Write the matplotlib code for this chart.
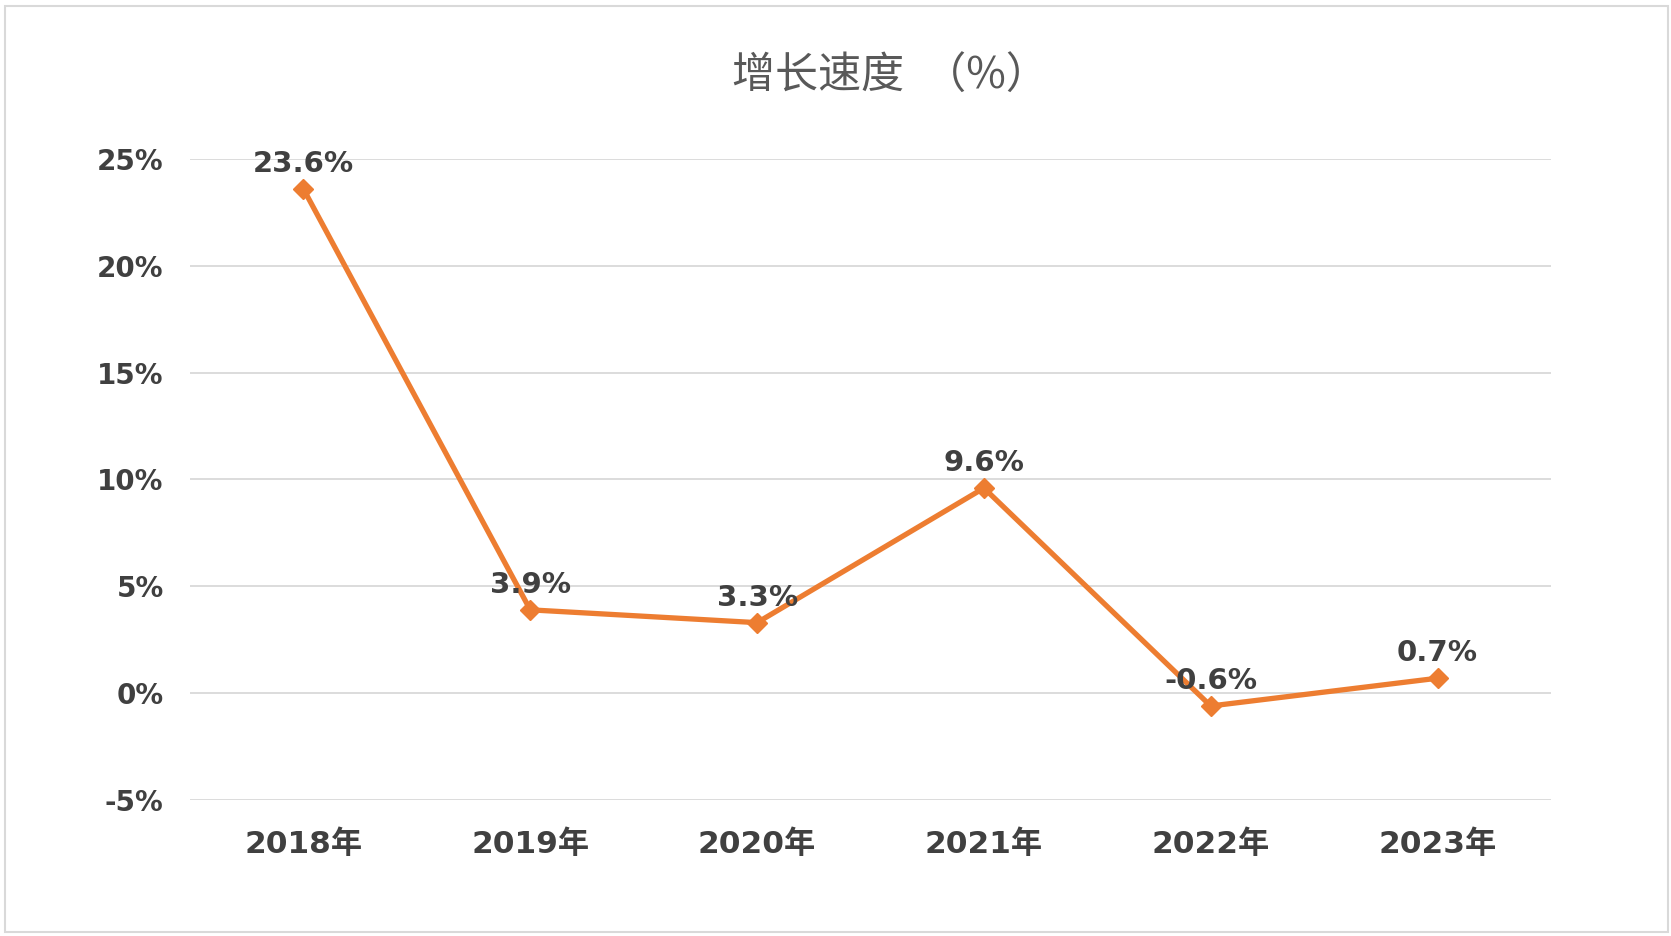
import numpy as np
import matplotlib.pyplot as plt
from matplotlib.ticker import FuncFormatter
from matplotlib.patches import Rectangle

years = ['2018年', '2019年', '2020年', '2021年', '2022年', '2023年']
growth = [23.6, 3.9, 3.3, 9.6, -0.6, 0.7]
title = '增长速度  （%）'

orange = '#ED7D31'
txt_color = '#404040'
fonts = ['DejaVu Sans', 'Noto Sans CJK SC']

fig = plt.figure(figsize=(16.71, 9.36), dpi=100)
fig.patch.set_facecolor('white')
# chart border
fig.patches.append(Rectangle((0.003, 0.004), 0.995, 0.99, transform=fig.transFigure,
                             fill=False, edgecolor='#D9D9D9', linewidth=1.5))

ax = fig.add_axes([190 / 1671, 1 - 800 / 936, 1361 / 1671, 641 / 936])
x = np.arange(len(years))
ax.plot(x, growth, color=orange, linewidth=3.8, marker='D', markersize=10,
        zorder=3)

for xi, v in zip(x, growth):
    ax.annotate(f'{v:.1f}%', (xi, v), xytext=(0, 18), textcoords='offset points',
                ha='center', va='center', fontsize=21, fontweight='bold',
                color=txt_color, family=fonts, zorder=4)

ax.set_xlim(-0.5, len(years) - 0.5)
ax.set_ylim(-5, 25)
ax.set_yticks(np.arange(-5, 26, 5))
ax.yaxis.set_major_formatter(FuncFormatter(lambda v, p: f'{v:.0f}%'))
ax.set_xticks(x)
ax.set_xticklabels(years)
ax.grid(axis='y', color='#D9D9D9', linewidth=1.3)
ax.set_axisbelow(True)
for s in ax.spines.values():
    s.set_visible(False)
ax.tick_params(length=0)
ax.tick_params(axis='y', pad=19)
ax.tick_params(axis='x', pad=21)
for lab in ax.get_yticklabels():
    lab.set_fontsize(20)
    lab.set_fontweight('bold')
    lab.set_color(txt_color)
    lab.set_family(fonts)
for lab in ax.get_xticklabels():
    lab.set_fontsize(22.5)
    lab.set_fontweight('bold')
    lab.set_color(txt_color)
    lab.set_family(fonts)

fig.text(890 / 1671, 1 - 77 / 936, title, ha='center', va='center',
         fontsize=31, fontweight='medium', color='#595959',
         family=['Noto Sans CJK SC', 'DejaVu Sans'])

fig.savefig('out.png', dpi=100)
